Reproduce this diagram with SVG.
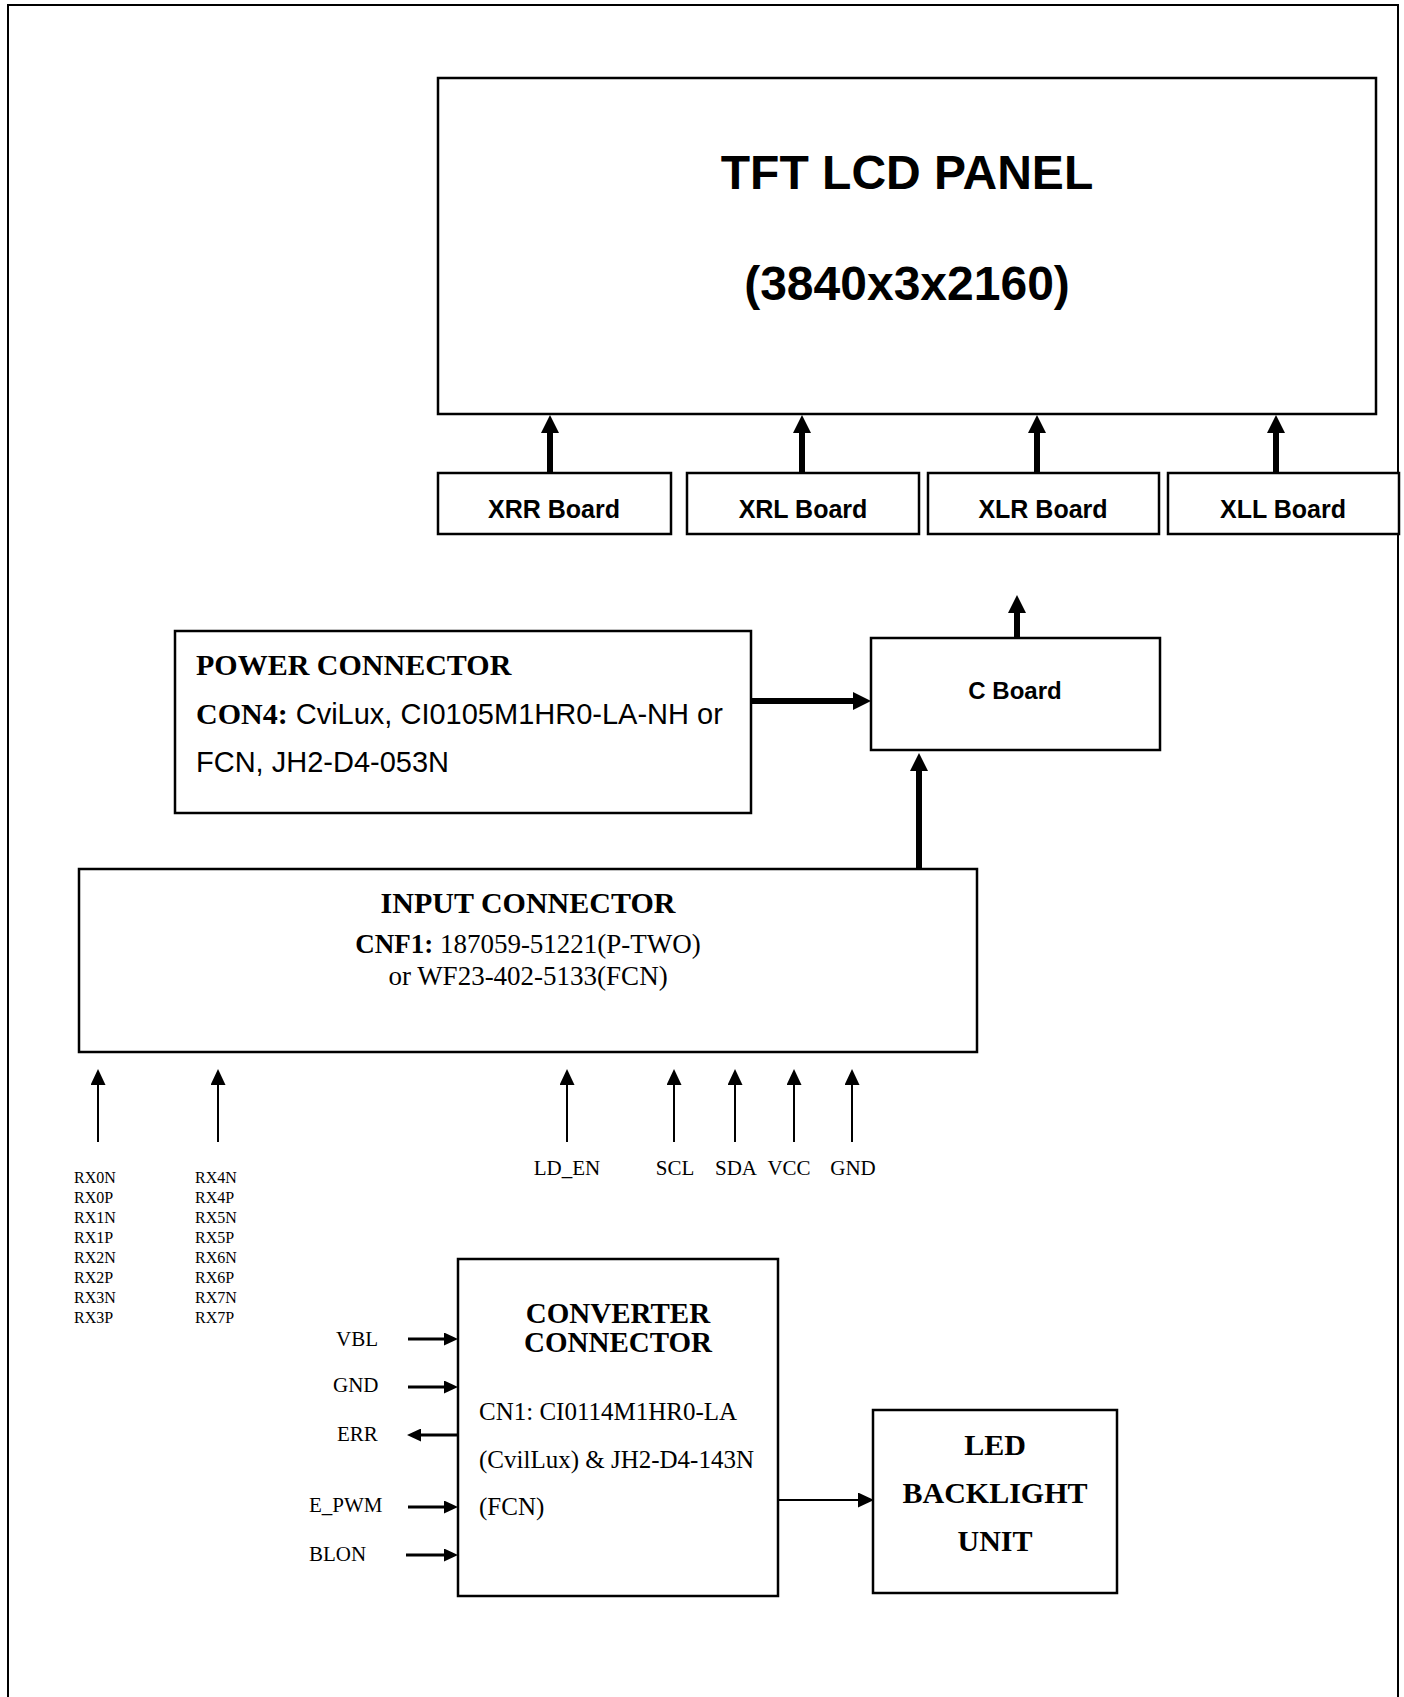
<svg xmlns="http://www.w3.org/2000/svg" width="1404" height="1697" viewBox="0 0 1404 1697">
  <style>
    .box { fill: #ffffff; stroke: #000000; stroke-width: 2.5; }
    .frame { fill: none; stroke: #000000; stroke-width: 2; }
    .sansb { font-family: "Liberation Sans", Arial, sans-serif; font-weight: bold; fill: #000; }
    .sans { font-family: "Liberation Sans", Arial, sans-serif; fill: #000; }
    .serifb { font-family: "Liberation Serif", "Times New Roman", serif; font-weight: bold; fill: #000; }
    .serif { font-family: "Liberation Serif", "Times New Roman", serif; fill: #000; }
    .rx { font-family: "Liberation Serif", "Times New Roman", serif; font-size: 16px; fill: #000; }
    .thick { stroke: #000; stroke-width: 6; fill: none; }
    .med { stroke: #000; stroke-width: 3; fill: none; }
    .thin { stroke: #000; stroke-width: 2; fill: none; }
  </style>
  <defs>
    <marker id="aBig" viewBox="0 -9 18 18" refX="0" refY="0" markerWidth="18" markerHeight="18" markerUnits="userSpaceOnUse" orient="auto">
      <path d="M0,-9 L18,0 L0,9 Z" fill="#000"/>
    </marker>
    <marker id="aMid" viewBox="0 -6.5 14 13" refX="0" refY="0" markerWidth="14" markerHeight="13" markerUnits="userSpaceOnUse" orient="auto">
      <path d="M0,-6.5 L14,0 L0,6.5 Z" fill="#000"/>
    </marker>
    <marker id="aSmall" viewBox="0 -7.5 16 15" refX="0" refY="0" markerWidth="16" markerHeight="15" markerUnits="userSpaceOnUse" orient="auto">
      <path d="M0,-7.5 L16,0 L0,7.5 Z" fill="#000"/>
    </marker>
  </defs>

  <rect class="frame" x="8" y="5" width="1390" height="1730"/>

  <g id="tft-panel">
    <rect class="box" x="438" y="78" width="938" height="336"/>
    <text class="sansb" x="907" y="189" font-size="48" text-anchor="middle">TFT LCD PANEL</text>
    <text class="sansb" x="907" y="300" font-size="48" text-anchor="middle">(3840x3x2160)</text>
  </g>

  <g id="xrr-board">
    <rect class="box" x="438" y="473" width="233" height="61"/>
    <text class="sansb" x="554" y="518" font-size="25" text-anchor="middle">XRR Board</text>
  </g>
  <g id="xrl-board">
    <rect class="box" x="687" y="473" width="232" height="61"/>
    <text class="sansb" x="803" y="518" font-size="25" text-anchor="middle">XRL Board</text>
  </g>
  <g id="xlr-board">
    <rect class="box" x="928" y="473" width="231" height="61"/>
    <text class="sansb" x="1043" y="518" font-size="25" text-anchor="middle">XLR Board</text>
  </g>
  <g id="xll-board">
    <rect class="box" x="1168" y="473" width="231" height="61"/>
    <text class="sansb" x="1283" y="518" font-size="25" text-anchor="middle">XLL Board</text>
  </g>

  <g id="power-connector">
    <rect class="box" x="175" y="631" width="576" height="182"/>
    <text class="serifb" x="196" y="675" font-size="30">POWER CONNECTOR</text>
    <text x="196" y="724"><tspan class="serifb" font-size="30">CON4:</tspan><tspan class="sans" font-size="29"> CviLux, CI0105M1HR0-LA-NH or</tspan></text>
    <text class="sans" x="196" y="772" font-size="29">FCN, JH2-D4-053N</text>
  </g>

  <g id="c-board">
    <rect class="box" x="871" y="638" width="289" height="112"/>
    <text class="sansb" x="1015" y="699" font-size="24" text-anchor="middle">C Board</text>
  </g>

  <g id="input-connector">
    <rect class="box" x="79" y="869" width="898" height="183"/>
    <text class="serifb" x="528" y="913" font-size="30" text-anchor="middle">INPUT CONNECTOR</text>
    <text x="528" y="953" text-anchor="middle" font-size="27"><tspan class="serifb">CNF1:</tspan><tspan class="serif"> 187059-51221(P-TWO)</tspan></text>
    <text class="serif" x="528" y="985" font-size="27" text-anchor="middle">or WF23-402-5133(FCN)</text>
  </g>

  <g id="signal-labels">
    <text class="rx" x="74" y="1183">RX0N</text>
    <text class="rx" x="74" y="1203">RX0P</text>
    <text class="rx" x="74" y="1223">RX1N</text>
    <text class="rx" x="74" y="1243">RX1P</text>
    <text class="rx" x="74" y="1263">RX2N</text>
    <text class="rx" x="74" y="1283">RX2P</text>
    <text class="rx" x="74" y="1303">RX3N</text>
    <text class="rx" x="74" y="1323">RX3P</text>
    <text class="rx" x="195" y="1183">RX4N</text>
    <text class="rx" x="195" y="1203">RX4P</text>
    <text class="rx" x="195" y="1223">RX5N</text>
    <text class="rx" x="195" y="1243">RX5P</text>
    <text class="rx" x="195" y="1263">RX6N</text>
    <text class="rx" x="195" y="1283">RX6P</text>
    <text class="rx" x="195" y="1303">RX7N</text>
    <text class="rx" x="195" y="1323">RX7P</text>
    <text class="serif" font-size="21" x="567" y="1175" text-anchor="middle">LD_EN</text>
    <text class="serif" font-size="21" x="675" y="1175" text-anchor="middle">SCL</text>
    <text class="serif" font-size="21" x="736" y="1175" text-anchor="middle">SDA</text>
    <text class="serif" font-size="21" x="789" y="1175" text-anchor="middle">VCC</text>
    <text class="serif" font-size="21" x="853" y="1175" text-anchor="middle">GND</text>
    <text class="serif" font-size="21" x="336" y="1346">VBL</text>
    <text class="serif" font-size="21" x="333" y="1392">GND</text>
    <text class="serif" font-size="21" x="337" y="1441">ERR</text>
    <text class="serif" font-size="21" x="309" y="1512">E_PWM</text>
    <text class="serif" font-size="21" x="309" y="1561">BLON</text>
  </g>

  <g id="converter-connector">
    <rect class="box" x="458" y="1259" width="320" height="337"/>
    <text class="serifb" x="618" y="1323" font-size="29" text-anchor="middle">CONVERTER</text>
    <text class="serifb" x="618" y="1352" font-size="29" text-anchor="middle">CONNECTOR</text>
    <text class="serif" x="479" y="1420" font-size="25">CN1: CI0114M1HR0-LA</text>
    <text class="serif" x="479" y="1468" font-size="25">(CvilLux) &amp; JH2-D4-143N</text>
    <text class="serif" x="479" y="1515" font-size="25">(FCN)</text>
  </g>

  <g id="led-backlight-unit">
    <rect class="box" x="873" y="1410" width="244" height="183"/>
    <text class="serifb" x="995" y="1455" font-size="30" text-anchor="middle">LED</text>
    <text class="serifb" x="995" y="1503" font-size="30" text-anchor="middle">BACKLIGHT</text>
    <text class="serifb" x="995" y="1551" font-size="30" text-anchor="middle">UNIT</text>
  </g>

  <g id="connectors">
    <line class="thick" x1="550" y1="473" x2="550" y2="433" marker-end="url(#aBig)"/>
    <line class="thick" x1="802" y1="473" x2="802" y2="433" marker-end="url(#aBig)"/>
    <line class="thick" x1="1037" y1="473" x2="1037" y2="433" marker-end="url(#aBig)"/>
    <line class="thick" x1="1276" y1="473" x2="1276" y2="433" marker-end="url(#aBig)"/>
    <line class="thick" x1="1017" y1="638" x2="1017" y2="613" marker-end="url(#aBig)"/>
    <line class="thick" stroke-width="7" x1="751" y1="701" x2="853" y2="701" marker-end="url(#aBig)"/>
    <line class="thick" x1="919" y1="869" x2="919" y2="771" marker-end="url(#aBig)"/>

    <line class="thin" x1="98" y1="1142" x2="98" y2="1085" marker-end="url(#aSmall)"/>
    <line class="thin" x1="218" y1="1142" x2="218" y2="1085" marker-end="url(#aSmall)"/>
    <line class="thin" x1="567" y1="1142" x2="567" y2="1085" marker-end="url(#aSmall)"/>
    <line class="thin" x1="674" y1="1142" x2="674" y2="1085" marker-end="url(#aSmall)"/>
    <line class="thin" x1="735" y1="1142" x2="735" y2="1085" marker-end="url(#aSmall)"/>
    <line class="thin" x1="794" y1="1142" x2="794" y2="1085" marker-end="url(#aSmall)"/>
    <line class="thin" x1="852" y1="1142" x2="852" y2="1085" marker-end="url(#aSmall)"/>

    <line class="med" x1="408" y1="1339" x2="444" y2="1339" marker-end="url(#aMid)"/>
    <line class="med" x1="408" y1="1387" x2="444" y2="1387" marker-end="url(#aMid)"/>
    <line class="med" x1="458" y1="1435" x2="421" y2="1435" marker-end="url(#aMid)"/>
    <line class="med" x1="408" y1="1507" x2="444" y2="1507" marker-end="url(#aMid)"/>
    <line class="med" x1="406" y1="1555" x2="444" y2="1555" marker-end="url(#aMid)"/>

    <line class="thin" x1="778" y1="1500" x2="858" y2="1500" marker-end="url(#aSmall)"/>
  </g>
</svg>
